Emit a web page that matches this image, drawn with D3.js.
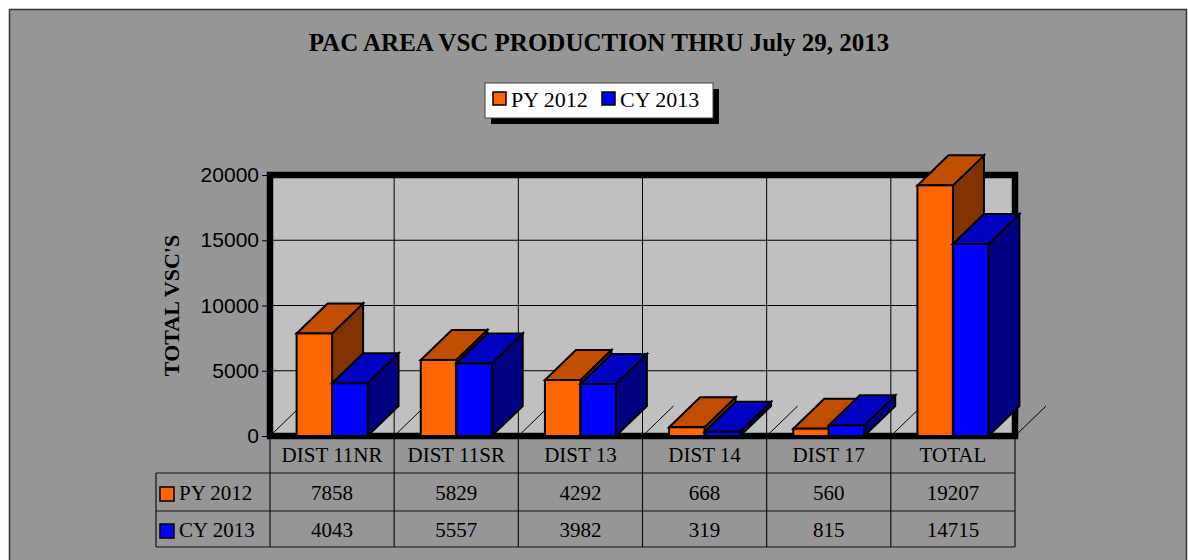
<!DOCTYPE html>
<html>
<head>
<meta charset="utf-8">
<script src="https://cdn.jsdelivr.net/npm/d3@7"></script>
<style>
  body { margin: 0; background: #fff; }
  text { fill: #000; }
</style>
</head>
<body>
<script>
var categories = ["DIST 11NR", "DIST 11SR", "DIST 13", "DIST 14", "DIST 17", "TOTAL"];
var seriesNames = ["PY 2012", "CY 2013"];
var py2012 = [7858, 5829, 4292, 668, 560, 19207];
var cy2013 = [4043, 5557, 3982, 319, 815, 14715];
var yTicks = [0, 5000, 10000, 15000, 20000];

var colors = {
    "PY 2012": {front: "#ff6600", top: "#c04d00", side: "#803300"},
    "CY 2013": {front: "#0000ff", top: "#0000c0", side: "#000080"}
};
var values = {"PY 2012": py2012, "CY 2013": cy2013};

var W = 1188, H = 560;
var pLeft = 270, pRight = 1015, pTop = 175, pBottom = 436;
var dx = 31, dy = 30;
var serif = "'Liberation Serif', 'Times New Roman', serif";
var sans = "'Liberation Sans', Arial, sans-serif";

var svg = d3.select("body").append("svg").attr("width", W).attr("height", H);

// outer chart area
svg.append("rect")
    .attr("x", 9.5).attr("y", 9.5)
    .attr("width", 1177).attr("height", 600)
    .attr("fill", "#969696")
    .attr("stroke", "#333").attr("stroke-width", 1.5);

// title
svg.append("text")
    .attr("x", 599).attr("y", 51)
    .attr("text-anchor", "middle")
    .style("font-family", serif).style("font-size", "25px").style("font-weight", "bold")
    .text("PAC AREA VSC PRODUCTION THRU July 29, 2013");

// legend
var lg = svg.append("g").attr("transform", "translate(485,83)");
lg.append("rect").attr("x", 6).attr("y", 6).attr("width", 228).attr("height", 35).attr("fill", "#000");
lg.append("rect").attr("x", 0).attr("y", 0).attr("width", 228).attr("height", 35)
    .attr("fill", "#fff").attr("stroke", "#444").attr("stroke-width", 1);
var legX = [8, 117];
seriesNames.forEach(function(s, i) {
    lg.append("rect").attr("x", legX[i]).attr("y", 9).attr("width", 13).attr("height", 13)
        .attr("fill", colors[s].front).attr("stroke", "#000").attr("stroke-width", 1.5);
    lg.append("text").attr("x", legX[i] + 18).attr("y", 24)
        .style("font-family", serif).style("font-size", "22px")
        .text(s);
});

var x = d3.scaleBand().domain(categories).range([pLeft, pRight]).padding(0);
var xs = d3.scaleBand().domain(seriesNames).range([0, x.bandwidth()]).paddingInner(0).paddingOuter(0.75);
var y = d3.scaleLinear().domain([0, 20000]).range([pBottom, pTop]);

// wall
svg.append("rect")
    .attr("x", pLeft).attr("y", pTop)
    .attr("width", pRight - pLeft).attr("height", pBottom - pTop)
    .attr("fill", "#c0c0c0");

svg.selectAll("hgrid")
    .data(yTicks.slice(1, -1))
    .enter()
    .append("line")
    .attr("x1", pLeft).attr("x2", pRight)
    .attr("y1", function(d) { return y(d); })
    .attr("y2", function(d) { return y(d); })
    .attr("stroke", "#000").attr("stroke-width", 1);

svg.selectAll("vgrid")
    .data(categories.slice(1))
    .enter()
    .append("line")
    .attr("x1", function(d) { return x(d); })
    .attr("x2", function(d) { return x(d); })
    .attr("y1", pTop).attr("y2", pBottom)
    .attr("stroke", "#000").attr("stroke-width", 1);

// floor depth lines
var bounds = categories.map(function(d) { return x(d); }).concat([pRight]);
svg.selectAll("floorline")
    .data(bounds)
    .enter()
    .append("line")
    .attr("x1", function(d) { return d; })
    .attr("y1", pBottom)
    .attr("x2", function(d) { return d + dx; })
    .attr("y2", pBottom - dy)
    .attr("stroke", "#000").attr("stroke-width", 1);

svg.append("rect")
    .attr("x", pLeft).attr("y", pTop)
    .attr("width", pRight - pLeft).attr("height", pBottom - pTop)
    .attr("fill", "none").attr("stroke", "#000").attr("stroke-width", 6.5);

// y axis
var yAxis = svg.append("g")
    .attr("transform", "translate(" + (pLeft - 3) + ",0)")
    .call(d3.axisLeft(y).tickValues(yTicks).tickSize(5).tickPadding(3).tickFormat(d3.format("d")));
yAxis.select(".domain").remove();
yAxis.selectAll("line").attr("stroke", "#000");
yAxis.selectAll("text")
    .style("font-family", sans).style("font-size", "21px").attr("fill", "#000");

svg.append("text")
    .attr("transform", "translate(179," + (pTop + pBottom) / 2 + ")rotate(-90)")
    .attr("text-anchor", "middle")
    .style("font-family", serif).style("font-size", "22px").style("font-weight", "bold")
    .text("TOTAL VSC'S");

// 3d bars
categories.forEach(function(c, ci) {
    seriesNames.forEach(function(s) {
        var v = values[s][ci];
        var x0 = x(c) + xs(s), w = xs.bandwidth(), y0 = y(v), yb = y(0);
        var g = svg.append("g")
            .attr("stroke", "#000").attr("stroke-width", 2).attr("stroke-linejoin", "miter");
        g.append("path")
            .attr("d", "M" + (x0 + w) + "," + y0 + "L" + (x0 + w + dx) + "," + (y0 - dy) +
                "L" + (x0 + w + dx) + "," + (yb - dy) + "L" + (x0 + w) + "," + yb + "Z")
            .attr("fill", colors[s].side);
        g.append("path")
            .attr("d", "M" + x0 + "," + y0 + "L" + (x0 + dx) + "," + (y0 - dy) +
                "L" + (x0 + w + dx) + "," + (y0 - dy) + "L" + (x0 + w) + "," + y0 + "Z")
            .attr("fill", colors[s].top);
        g.append("rect")
            .attr("x", x0).attr("y", y0)
            .attr("width", w).attr("height", yb - y0)
            .attr("fill", colors[s].front);
    });
});

// data table
var rowY = [436, 473, 511, 547];
var labelLeft = 156;
var tbl = svg.append("g").attr("stroke", "#111").attr("stroke-width", 1.2);
tbl.append("line").attr("x1", labelLeft).attr("x2", pRight).attr("y1", rowY[1]).attr("y2", rowY[1]);
tbl.append("line").attr("x1", labelLeft).attr("x2", pRight).attr("y1", rowY[2]).attr("y2", rowY[2]);
tbl.append("line").attr("x1", labelLeft).attr("x2", pRight).attr("y1", rowY[3]).attr("y2", rowY[3]);
tbl.append("line").attr("x1", labelLeft).attr("x2", labelLeft).attr("y1", rowY[1]).attr("y2", rowY[3]);
tbl.selectAll("colline")
    .data(bounds)
    .enter()
    .append("line")
    .attr("x1", function(d) { return d; })
    .attr("x2", function(d) { return d; })
    .attr("y1", pBottom + 3).attr("y2", rowY[3]);

svg.selectAll("colhead")
    .data(categories)
    .enter()
    .append("text")
    .attr("x", function(d) { return x(d) + x.bandwidth() / 2; })
    .attr("y", 462)
    .attr("text-anchor", "middle")
    .style("font-family", serif).style("font-size", "21px")
    .text(function(d) { return d; });

seriesNames.forEach(function(s, i) {
    var by = [500, 537][i];
    svg.append("rect").attr("x", 160).attr("y", by - 13).attr("width", 14).attr("height", 14)
        .attr("fill", colors[s].front).attr("stroke", "#000").attr("stroke-width", 1.5);
    svg.append("text").attr("x", 179).attr("y", by)
        .style("font-family", serif).style("font-size", "21px")
        .text(s);
    svg.selectAll("val" + i)
        .data(values[s])
        .enter()
        .append("text")
        .attr("x", function(d, j) { return x(categories[j]) + x.bandwidth() / 2; })
        .attr("y", by)
        .attr("text-anchor", "middle")
        .style("font-family", serif).style("font-size", "21px")
        .text(function(d) { return d; });
});
</script>
</body>
</html>
